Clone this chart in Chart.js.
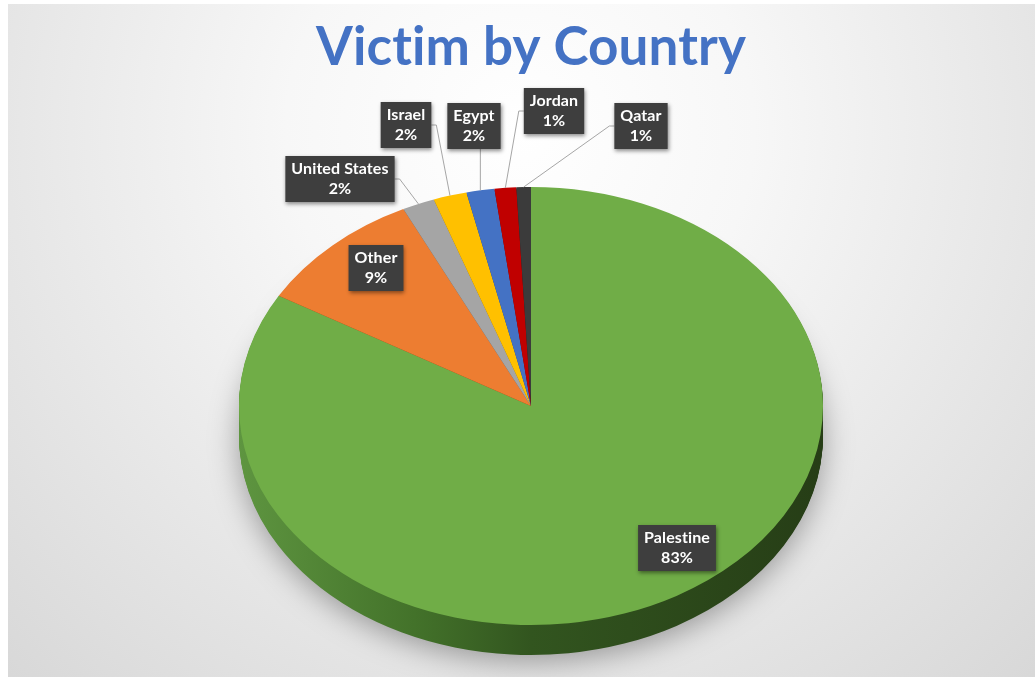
<!DOCTYPE html>
<html>
<head>
<meta charset="utf-8">
<title>Victim by Country</title>
<script src="https://cdn.jsdelivr.net/npm/chart.js@4.4.1/dist/chart.umd.min.js"></script>
<style>
  html, body { margin: 0; padding: 0; background: #fff; }
  #wrap { width: 1035px; height: 677px; }
</style>
</head>
<body>
<div id="wrap"><canvas id="chart" width="1035" height="677"></canvas></div>
<script>
// share of victims per country (percent)
const countries = ['Palestine', 'Other', 'United States', 'Israel', 'Egypt', 'Jordan', 'Qatar'];
const shares = [83.4, 9.4, 1.8, 1.85, 1.55, 1.2, 0.8];
const sliceColors = ['#70AD47', '#ED7D31', '#A5A5A5', '#FFC000', '#4472C4', '#C00000', '#3B3B3B'];

// tilt of the pie + where the callout boxes sit (screen px)
const PIE = { cy: 406, tilt: 0.75, depth: 30 };
const labelPos = {
    'Palestine': [677, 548],
    'Other': [376, 268],
    'United States': [340, 179],
    'Israel': [406, 125],
    'Egypt': [474, 126],
    'Jordan': [554, 111],
    'Qatar': [641, 126]
};
const insideLabels = ['Palestine', 'Other'];

function shade(hex, f) {
    const n = parseInt(hex.slice(1), 16);
    const r = Math.round(((n >> 16) & 255) * f);
    const g = Math.round(((n >> 8) & 255) * f);
    const b = Math.round((n & 255) * f);
    return `rgb(${r},${g},${b})`;
}

// squash the circle into an ellipse centred on PIE.cy, shifted down by dy
function tilt(ctx, arc, dy) {
    ctx.translate(0, PIE.cy + dy);
    ctx.scale(1, PIE.tilt);
    ctx.translate(0, -arc.y);
}

const background = {
    id: 'background',
    beforeDraw(chart) {
        const { ctx, width, height } = chart;
        ctx.save();
        ctx.fillStyle = '#fff';
        ctx.fillRect(0, 0, width, height);
        const g = ctx.createRadialGradient(520, 130, 0, 520, 130, 780);
        g.addColorStop(0, '#FFFFFF');
        g.addColorStop(0.3, '#F7F7F7');
        g.addColorStop(1, '#D6D6D6');
        ctx.fillStyle = g;
        ctx.fillRect(8, 4, width - 8, height - 4);
        ctx.restore();
        // tiny spacing stops Lato from joining "ti" in the title
        ctx.letterSpacing = '0.1px';
    }
};

const pie3d = {
    id: 'pie3d',
    beforeDatasetsDraw(chart) {
        const ctx = chart.ctx;
        const arcs = chart.getDatasetMeta(0).data;
        const ref = arcs[0];
        const left = ref.x - ref.outerRadius;
        const right = ref.x + ref.outerRadius;
        const grad = ctx.createLinearGradient(left, 0, right, 0);
        grad.addColorStop(0, '#5E9540');
        grad.addColorStop(0.3, '#43722A');
        grad.addColorStop(0.5, '#32551F');
        grad.addColorStop(1, '#263D16');

        // side wall: stack darker copies of the slices
        for (let d = PIE.depth; d >= 1; d--) {
            ctx.save();
            tilt(ctx, ref, d);
            if (d === PIE.depth) {
                ctx.shadowColor = 'rgba(0,0,0,0.35)';
                ctx.shadowBlur = 30;
                ctx.shadowOffsetY = 6;
            }
            arcs.forEach((arc, i) => {
                const saved = arc.options;
                const fill = i === 0 ? grad : shade(sliceColors[i], 0.55);
                arc.options = Object.assign({}, saved, { backgroundColor: fill, borderColor: fill, borderWidth: 0 });
                arc.draw(ctx);
                arc.options = saved;
            });
            ctx.restore();
        }
        // top face drawn by chart.js under the same squash
        ctx.save();
        tilt(ctx, ref, 0);
    },
    afterDatasetsDraw(chart) {
        chart.ctx.restore();
    }
};

const sliceLabels = {
    id: 'sliceLabels',
    afterDraw(chart) {
        const ctx = chart.ctx;
        const arcs = chart.getDatasetMeta(0).data;
        const total = shares.reduce((a, b) => a + b, 0);
        ctx.save();
        ctx.font = 'bold 16px Lato';
        arcs.forEach((arc, i) => {
            const name = countries[i];
            const lines = [name, Math.round(shares[i] / total * 100) + '%'];
            const [bx, by] = labelPos[name];
            const w = Math.max(...lines.map(t => ctx.measureText(t).width)) + 12;
            const h = lines.length * 20 + 6;
            const x0 = bx - w / 2;
            const y0 = by - h / 2;

            if (!insideLabels.includes(name)) {
                const mid = (arc.startAngle + arc.endAngle) / 2;
                const ax = arc.x + arc.outerRadius * Math.cos(mid);
                const ay = PIE.cy + arc.outerRadius * PIE.tilt * Math.sin(mid);
                ctx.strokeStyle = '#A6A6A6';
                ctx.lineWidth = 1;
                ctx.beginPath();
                if (ax >= x0 && ax <= x0 + w) {
                    ctx.moveTo(ax, y0 + h);
                } else if (ax < x0) {
                    ctx.moveTo(x0, by);
                    ctx.lineTo(x0 - 5, by);
                } else {
                    ctx.moveTo(x0 + w, by);
                    ctx.lineTo(x0 + w + 5, by);
                }
                ctx.lineTo(ax, ay);
                ctx.stroke();
            }

            ctx.save();
            ctx.shadowColor = 'rgba(0,0,0,0.45)';
            ctx.shadowBlur = 4;
            ctx.shadowOffsetX = 1;
            ctx.shadowOffsetY = 2;
            ctx.fillStyle = '#3E3E3E';
            ctx.fillRect(x0, y0, w, h);
            ctx.restore();

            ctx.fillStyle = '#FFFFFF';
            ctx.textAlign = 'center';
            ctx.textBaseline = 'middle';
            lines.forEach((t, j) => ctx.fillText(t, bx, y0 + 3 + 10 + j * 20));
        });
        ctx.restore();
    }
};

new Chart(document.getElementById('chart'), {
    type: 'pie',
    data: {
        labels: countries,
        datasets: [{
            data: shares,
            backgroundColor: sliceColors,
            borderWidth: 0,
            clip: false
        }]
    },
    options: {
        responsive: false,
        animation: false,
        events: [],
        layout: { padding: { left: 239, right: 212, top: 0, bottom: 0 } },
        plugins: {
            legend: { display: false },
            tooltip: { enabled: false },
            title: {
                display: true,
                text: 'Victim by Country',
                color: '#4472C4',
                font: { family: 'Lato', size: 53, weight: 'bold' },
                padding: { top: 16, bottom: 3 }
            }
        }
    },
    plugins: [background, pie3d, sliceLabels]
});
</script>
</body>
</html>
